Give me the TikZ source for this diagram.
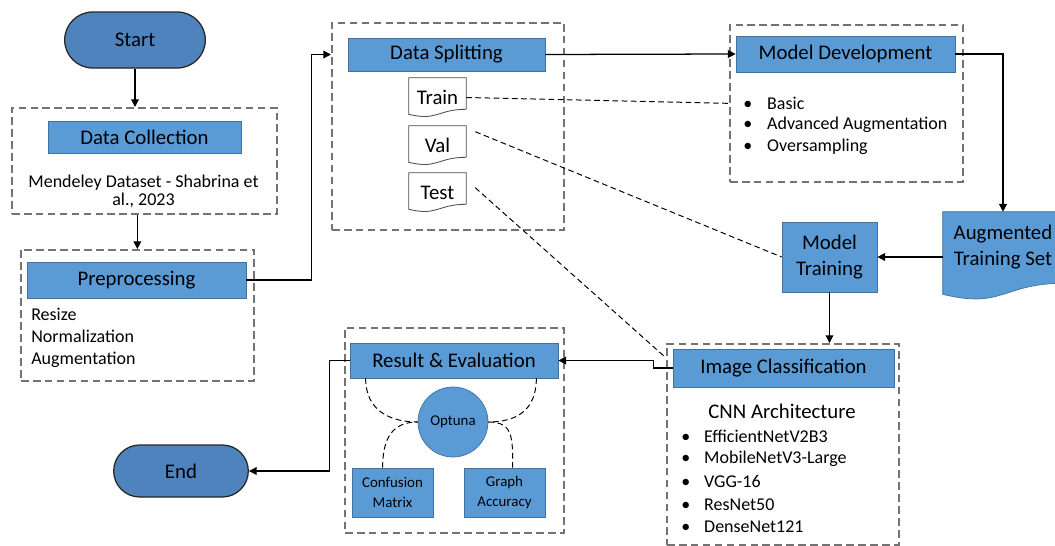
\documentclass[tikz,border=0pt]{standalone}
\usepackage{fontspec}
\setmainfont{Carlito}
\usepackage{tikz}
\usetikzlibrary{shapes.misc,calc,arrows.meta}
\pgfdeclarelayer{background}
\pgfsetlayers{background,main}
\definecolor{hb}{RGB}{91,155,213}
\definecolor{hbline}{RGB}{65,113,156}
\definecolor{tb}{RGB}{79,131,189}
\newlength{\pxl}\setlength{\pxl}{0.025cm}
\newcommand{\headfont}{\fontsize{14.8}{18.9}\selectfont}
\newcommand{\bodyfont}{\fontsize{12.8}{15.6}\selectfont}
\newcommand{\smallfont}{\fontsize{10.6}{14}\selectfont}

\begin{document}
\begin{tikzpicture}[x=0.025cm,y=-0.025cm,
  term/.style={rounded rectangle,draw=black!85,line width=0.9pt,fill=tb,font=\headfont},
  head/.style={rectangle,draw=hbline,line width=0.5pt,fill=hb,font=\headfont,inner sep=0pt},
  blk/.style={rectangle,draw=hbline,line width=0.5pt,fill=hb,inner sep=0pt,align=center},
  dashbox/.style={rectangle,draw=black!55,line width=1.2pt,dash pattern=on 5.5pt off 3pt,anchor=north west,inner sep=0pt},
  docu/.style={inner sep=0pt,font=\headfont,minimum width=57\pxl,minimum height=39\pxl},
  item/.style={anchor=west,inner sep=0pt,font=\bodyfont},
  arr/.style={draw=black,line width=0.9pt,-{Triangle[length=5.5pt,width=5.5pt]}},
  link/.style={draw=black,line width=0.7pt,dash pattern=on 4pt off 2.5pt}]

\useasboundingbox (0,0) rectangle (1055,546);
\clip (0,0) rectangle (1055,546);

\node[term,minimum width=150\pxl,minimum height=56\pxl] (start) at (135,40) {Start};

\node[dashbox,minimum width=265\pxl,minimum height=106\pxl] (colbox) at (11,107) {};
\node[head,minimum width=193\pxl,minimum height=32\pxl] (colhead) at (144.5,137) {Data Collection};
\node[font=\fontsize{12.8}{12.8}\selectfont,align=center,inner sep=0pt] (colsrc) at (143.5,191) {Mendeley Dataset - Shabrina et\\al., 2023};

\node[dashbox,minimum width=233\pxl,minimum height=131\pxl] (prebox) at (20,249) {};
\node[head,minimum width=219\pxl,minimum height=36\pxl] (prehead) at (136.5,280) {Preprocessing};
\node[item,align=left] (prestep) at (31,338) {Resize\\Normalization\\Augmentation};

% data splitting
\node[dashbox,minimum width=232\pxl,minimum height=207\pxl] (splitbox) at (331,22) {};
\node[head,minimum width=197\pxl,minimum height=33\pxl] (splithead) at (446.5,54.5) {Data Splitting};
\node[docu] (train) at (437.5,97.5) {Train};
\node[docu] (val) at (437.5,145.5) {Val};
\node[docu] (test) at (437.5,192.5) {Test};

% model development
\node[dashbox,minimum width=233\pxl,minimum height=157\pxl] (devbox) at (729,24) {};
\node[head,minimum width=219\pxl,minimum height=36\pxl] (devhead) at (845.5,54) {Model Development};
\foreach \m [count=\i] in {Basic,Advanced Augmentation,Oversampling}
  \node[item] (dev\i) at (743,81+22*\i) {\makebox[17pt][l]{\textbullet}\m};

\node[minimum width=120\pxl,minimum height=88\pxl,inner sep=0pt] (aug) at (1003,256) {};
\node[font=\headfont,align=center,inner sep=0pt] (augtxt) at (1003,247) {Augmented\\Training Set};

\node[blk,font=\headfont,minimum width=95\pxl,minimum height=70\pxl] (mtrain) at (829.5,257) {Model\\Training};

% classification
\node[dashbox,minimum width=232\pxl,minimum height=201\pxl] (imgbox) at (666,343) {};
\node[head,minimum width=221\pxl,minimum height=38\pxl] (imghead) at (783.5,368) {Image Classification};
\node[font=\headfont,inner sep=0pt] (cnn) at (782,411) {CNN Architecture};
\foreach \m [count=\i] in {EfficientNetV2B3,MobileNetV3-Large,VGG-16,ResNet50,DenseNet121}
  \node[item] (cnn\i) at (681,413.5+22.7*\i) {\makebox[16.3pt][l]{\textbullet}\m};

% evaluation
\node[dashbox,minimum width=219\pxl,minimum height=205\pxl] (resbox) at (344,327) {};
\node[head,minimum width=208\pxl,minimum height=35\pxl] (reshead) at (454,360.5) {Result \& Evaluation};
\node[circle,draw=hbline,line width=0.5pt,fill=hb,minimum size=70\pxl,inner sep=0pt,font=\smallfont] (optuna) at (453,422) {Optuna};
\node[blk,font=\smallfont,minimum width=81\pxl,minimum height=49\pxl] (conf) at (392.5,492.5) {Confusion\\Matrix};
\node[blk,font=\smallfont,minimum width=81\pxl,minimum height=49\pxl] (graph) at (504.5,492.5) {Graph\\Accuracy};

\node[term,minimum width=144\pxl,minimum height=52\pxl] (endn) at (181,471) {End};

\begin{pgfonlayer}{background}
\foreach \d in {train,val,test}
  \draw[draw=black!70,line width=0.6pt,fill=white] (\d.north west) -- (\d.north east) -- ($(\d.south east)+(0,-8)$) .. controls ($(\d.south)+(0,-8)$) and ($(\d.south)+(0,4)$) .. ($(\d.south west)+(0,-3)$) -- cycle;
\draw[draw=hbline,line width=0.5pt,fill=hb] (aug.north west) -- (aug.north east) -- ($(aug.south east)+(0,-17)$) .. controls ($(aug.south)+(0,-17)$) and ($(aug.south)+(0,9)$) .. ($(aug.south west)+(0,-6)$) -- cycle;
\end{pgfonlayer}

\draw[arr] (start.south) -- (start.south |- colbox.north);
\draw[arr] (prebox.north |- colbox.south) -- (prebox.north);
\draw[arr] (prehead.east) -- ++(65,0) |- (splitbox.west |- splithead);
\draw[arr] (splithead.east) -- (devhead.west);
\draw[arr] (devhead.east) -| (aug.north);
\draw[arr] (aug.west |- mtrain) -- (mtrain.east);
\draw[arr] (mtrain.south) -- (mtrain.south |- imgbox.north);
\draw[arr] (imghead.west) -- ++(-19,0) |- (reshead.east);
\draw[arr] (reshead.west) -- ++(-20,0) |- (endn.east);

\draw[link] (train.east) -- (devbox.west);
\draw[link] ($(val.north east)+(9,6)$) -- (mtrain.west);
\draw[link] ($(test.north east)+(9,15)$) -- ($(imgbox.north west)+(-1,14)$);
\draw[link] ($(reshead.south west)+(16,0)$) .. controls +(0,32) and +(-28,0) .. (optuna.west);
\draw[link] ($(reshead.south east)+(-22,0)$) .. controls +(0,32) and +(28,0) .. (optuna.east);
\draw[link] ($(conf.north west)+(31,0)$) .. controls +(0,-30) and +(-25,0) .. (optuna.west);
\draw[link] ($(graph.north west)+(49,0)$) .. controls +(0,-30) and +(25,0) .. (optuna.east);
\end{tikzpicture}
\end{document}
